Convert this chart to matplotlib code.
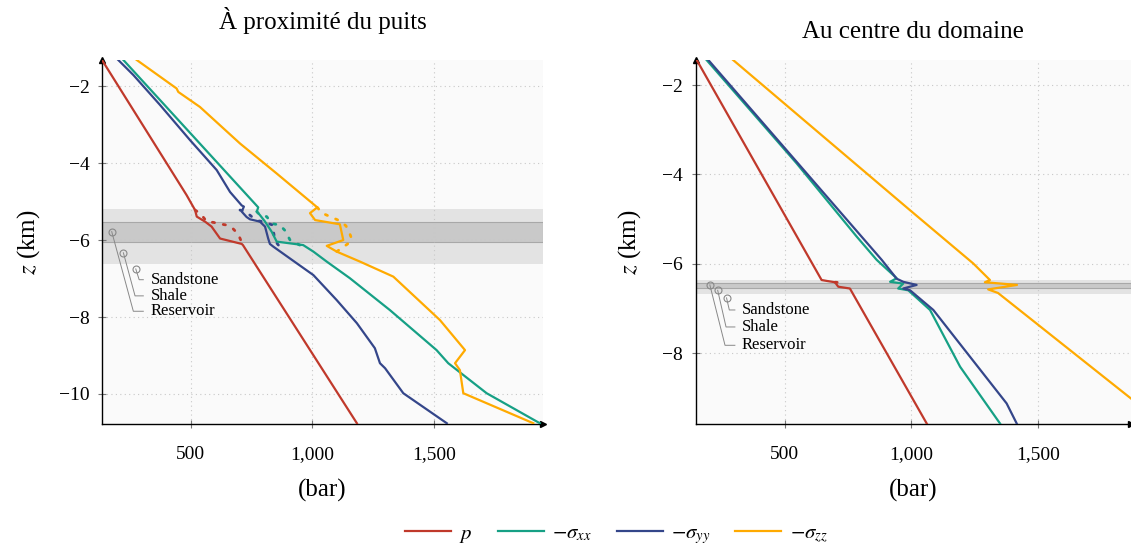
import matplotlib
matplotlib.use("Agg")
import matplotlib.pyplot as plt
from matplotlib.ticker import FuncFormatter

plt.rcParams['font.family'] = ['Liberation Serif', 'DejaVu Serif']
plt.rcParams['mathtext.fontset'] = 'stix'

# ---- data: near the well (left) ----
p_x = [134, 482, 517, 524, 558, 585, 620, 709, 714, 1183]
p_z = [-1.32, -4.83, -5.22, -5.39, -5.52, -5.65, -5.96, -6.10, -6.13, -10.76]
xx_x = [222, 777, 771, 784, 805, 832, 853, 962, 1004, 1059, 1154, 1319, 1511, 1559, 1717, 1936]
xx_z = [-1.32, -5.15, -5.26, -5.35, -5.52, -5.78, -6.04, -6.13, -6.30, -6.56, -6.99, -7.82, -8.86, -9.20, -9.98, -10.76]
yy_x = [201, 263, 373, 496, 606, 661, 709, 718, 709, 729, 743, 784, 805, 818, 825, 839, 908, 1004, 1100, 1183, 1257, 1278, 1299, 1374, 1553]
yy_z = [-1.32, -1.71, -2.49, -3.40, -4.18, -4.75, -5.10, -5.13, -5.26, -5.40, -5.46, -5.52, -5.65, -5.96, -6.10, -6.17, -6.48, -6.91, -7.56, -8.16, -8.81, -9.20, -9.33, -9.98, -10.76]
zz_x = [277, 441, 448, 537, 702, 853, 1020, 990, 1011, 1113, 1127, 1059, 1100, 1196, 1333, 1525, 1628, 1587, 1607, 1621, 1909]
zz_z = [-1.32, -2.06, -2.15, -2.54, -3.49, -4.27, -5.15, -5.30, -5.48, -5.59, -6.00, -6.15, -6.30, -6.56, -6.95, -8.08, -8.86, -9.20, -9.38, -9.98, -10.76]

# dotted profiles (left)
p_dx = [517, 524, 544, 565, 592, 620, 647, 674, 695, 705, 714]
p_dz = [-5.22, -5.25, -5.35, -5.52, -5.54, -5.58, -5.61, -5.71, -5.85, -6.00, -6.13]
xx_dx = [771, 784, 812, 832, 866, 887, 908, 948]
xx_dz = [-5.26, -5.35, -5.39, -5.57, -5.61, -5.75, -6.00, -6.13]
yy_dx = [702, 729, 750, 777, 798, 836, 839, 846, 860]
yy_dz = [-5.22, -5.28, -5.39, -5.50, -5.52, -5.61, -5.75, -6.02, -6.13]
zz_dx = [1020, 1040, 1113, 1138, 1152, 1162, 1145, 1100]
zz_dz = [-5.15, -5.30, -5.50, -5.63, -5.80, -5.98, -6.10, -6.30]

# ---- data: domain centre (right) ----
rp_x = [151, 645, 665, 698, 711, 757, 1061]
rp_z = [-1.44, -6.36, -6.38, -6.41, -6.51, -6.55, -9.57]
rxx_x = [190, 546, 784, 863, 942, 916, 968, 948, 988, 1074, 1193, 1351]
rxx_z = [-1.44, -3.75, -5.39, -5.91, -6.32, -6.40, -6.44, -6.55, -6.59, -7.03, -8.30, -9.57]
ryy_x = [197, 883, 942, 968, 1021, 968, 995, 1087, 1377, 1417]
ryy_z = [-1.44, -5.91, -6.33, -6.40, -6.47, -6.55, -6.59, -7.03, -9.12, -9.57]
rzz_x = [295, 995, 1245, 1311, 1291, 1418, 1304, 1343, 1869]
rzz_z = [-1.44, -4.80, -5.99, -6.36, -6.41, -6.47, -6.57, -6.65, -9.01]
rp_dx = [698, 740]
rp_dz = [-6.41, -6.42]

# layers: (top, bottom)
left_outer = (-5.19, -6.62)
left_res = (-5.54, -6.04)
right_outer = (-6.36, -6.67)
right_res = (-6.42, -6.54)

layer_names = ["Sandstone", "Shale", "Reservoir"]
left_yticks = [-10, -8, -6, -4, -2]
right_yticks = [-8, -6, -4, -2]

c_p = "#c0392b"
c_xx = "#16a085"
c_yy = "#34468a"
c_zz = "#ffaa00"

fig = plt.figure(figsize=(11.31, 5.5), dpi=100)
axL = fig.add_axes([102 / 1131, 1 - 424 / 550, 441 / 1131, 364 / 550])
axR = fig.add_axes([695.7 / 1131, 1 - 424 / 550, 435.3 / 1131, 364 / 550])


def style(ax, title, xlim, ylim, outer, res, yticks, tpad, ylpad):
    ax.set_facecolor("#fafafa")
    ax.set_xlim(*xlim)
    ax.set_ylim(*ylim)
    for s in ["top", "right"]:
        ax.spines[s].set_visible(False)
    for s in ["left", "bottom"]:
        ax.spines[s].set_linewidth(1.0)
    ax.plot(1, 0, ">k", transform=ax.transAxes, clip_on=False, markersize=4)
    ax.plot(0, 1, "^k", transform=ax.transAxes, clip_on=False, markersize=4)
    ax.axhspan(outer[1], outer[0], color="#e3e3e3", lw=0, zorder=0.5)
    ax.axhspan(res[1], res[0], facecolor="#c9c9c9", edgecolor="#a8a8a8", lw=0.8, zorder=0.6)
    ax.set_xticks([500, 1000, 1500])
    ax.set_yticks(yticks)
    ax.xaxis.set_major_formatter(FuncFormatter(lambda v, pos: f"{v:,.0f}"))
    ax.grid(True, linestyle=(0, (1, 3)), color="#c8c8c8", linewidth=0.8)
    for gl in ax.get_xgridlines() + ax.get_ygridlines():
        gl.set_zorder(1)
    ax.tick_params(direction="inout", length=6, color="#777777", labelsize=14)
    ax.tick_params(axis="x", pad=13)
    ax.tick_params(axis="y", pad=6)
    ax.set_title(title, fontsize=18, pad=tpad)
    ax.set_xlabel("(bar)", fontsize=18, labelpad=11)
    ax.set_ylabel("$z$ (km)", fontsize=18, labelpad=ylpad)


style(axL, "À proximité du puits", (134, 1949), (-10.78, -1.32), left_outer, left_res,
      left_yticks, 22, 12)
style(axR, "Au centre du domaine", (147, 1869), (-9.58, -1.44), right_outer, right_res,
      right_yticks, 16, 14)

lw = 1.6
dot = dict(linestyle=(0, (0.8, 3.2)), linewidth=2, dash_capstyle="round", zorder=2)
axL.plot(p_dx, p_dz, color=c_p, **dot)
axL.plot(xx_dx, xx_dz, color=c_xx, **dot)
axL.plot(yy_dx, yy_dz, color=c_yy, **dot)
axL.plot(zz_dx, zz_dz, color=c_zz, **dot)
axL.plot(p_x, p_z, color=c_p, lw=lw, zorder=3, label="$p$")
axL.plot(xx_x, xx_z, color=c_xx, lw=lw, zorder=3, label=r"$-\sigma_{xx}$")
axL.plot(yy_x, yy_z, color=c_yy, lw=lw, zorder=3, label=r"$-\sigma_{yy}$")
axL.plot(zz_x, zz_z, color=c_zz, lw=lw, zorder=3, label=r"$-\sigma_{zz}$")

axR.plot(rp_dx, rp_dz, color=c_p, **dot)
axR.plot(rp_x, rp_z, color=c_p, lw=lw, zorder=3)
axR.plot(rxx_x, rxx_z, color=c_xx, lw=lw, zorder=3)
axR.plot(ryy_x, ryy_z, color=c_yy, lw=lw, zorder=3)
axR.plot(rzz_x, rzz_z, color=c_zz, lw=lw, zorder=3)


# layer labels with leader lines
def leaders(ax, pts, elbows, end_x, text_x):
    for name, (cx, cz), (ex, ez) in zip(layer_names, pts, elbows):
        ax.plot([cx, ex, end_x], [cz, ez, ez], color="#888888", lw=0.7, zorder=4)
        ax.plot(cx, cz, "o", mfc="none", mec="#888888", ms=5, mew=0.8, zorder=4)
        ax.text(text_x, ez, name, fontsize=12, va="center", ha="left", zorder=4)


leaders(axL, [(273, -6.75), (222, -6.33), (174, -5.78)],
        [(287, -7.03), (270, -7.45), (263, -7.85)], 304, 335)
leaders(axR, [(269, -6.76), (234, -6.59), (203, -6.47)],
        [(280, -7.03), (267, -7.41), (263, -7.82)], 302, 330)

handles, labels = axL.get_legend_handles_labels()
fig.legend(handles, labels, loc="center", bbox_to_anchor=(0.545, 0.027), ncol=4,
           frameon=False, fontsize=15, handlelength=2.2, handletextpad=0.4,
           columnspacing=1.2)

fig.savefig("out.png", dpi=100)
